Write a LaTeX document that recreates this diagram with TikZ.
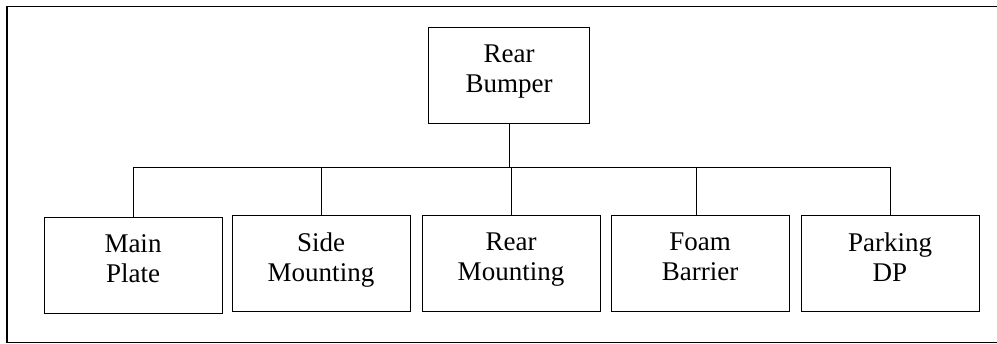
\documentclass[tikz,border=0pt]{standalone}
\usepackage{fontspec}
\setmainfont{Liberation Serif}
\begin{document}
\begin{tikzpicture}[x=1pt,y=-1pt,
  box/.style={draw,line width=1pt,minimum width=178pt,minimum height=96pt,inner sep=0pt,align=center,
    text depth=14pt,font=\fontsize{27}{30}\selectfont},
  link/.style={line width=1pt}]
\useasboundingbox (0,0) rectangle (997,344);
\draw[line width=1.3pt] (1005,6.5) -- (7,6.5) -- (7,342.5) -- (1005,342.5);
\node[box,minimum width=161pt] (top) at (509,76) {Rear\\Bumper};
\node[box] (b1) at (133,265.5) {Main\\Plate};
\node[box] (b2) at (321,264) {Side\\Mounting};
\node[box] (b3) at (511,264) {Rear\\Mounting};
\node[box] (b4) at (700,264) {Foam\\Barrier};
\node[box] (b5) at (890,264) {Parking\\DP};
\coordinate (bus) at (0,168);
\draw[link] (b1.north) -- (b1.north |- bus) -- (b5.north |- bus) -- (b5.north);
\draw[link] (b2.north) -- (b2.north |- bus);
\draw[link] (b3.north) -- (b3.north |- bus);
\draw[link] ([xshift=-4pt]b4.north) -- ([xshift=-4pt]b4.north |- bus);
\draw[link] (top.south) -- (top.south |- bus);
\end{tikzpicture}
\end{document}
